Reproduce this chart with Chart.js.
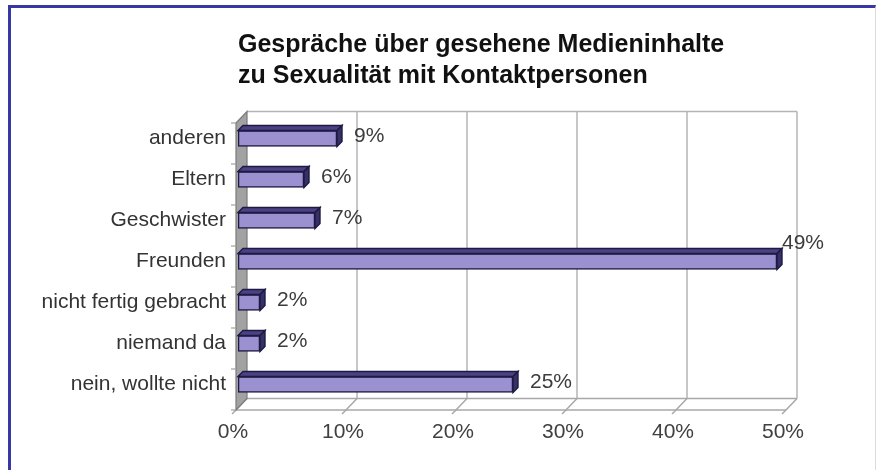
<!DOCTYPE html>
<html>
<head>
<meta charset="utf-8">
<script src="https://cdn.jsdelivr.net/npm/chart.js@4.4.1/dist/chart.umd.min.js"></script>
<style>
  html, body { margin: 0; padding: 0; background: #ffffff; }
  #wrap { position: relative; width: 876px; height: 470px; overflow: hidden; }
  #c { position: absolute; left: 0; top: 0; }
  #frame { position: absolute; left: 8px; top: 5px; width: 864px; height: 470px;
           border-left: 3px solid #3838a4; border-top: 3px solid #3838a4;
           border-right: 1px solid #dcdcdc; pointer-events: none; }
</style>
</head>
<body>
<div id="wrap">
  <canvas id="c" width="876" height="470"></canvas>
  <div id="frame"></div>
</div>
<script>
const titleLines = ['Gespräche über gesehene Medieninhalte', 'zu Sexualität mit Kontaktpersonen'];
const categories = ['anderen', 'Eltern', 'Geschwister', 'Freunden', 'nicht fertig gebracht', 'niemand da', 'nein, wollte nicht'];
const values = [9, 6, 7, 49, 2, 2, 25];
const xMin = 0;
const xMax = 50;
const xStep = 10;
const valueSuffix = '%';

const FONT = '"Liberation Sans", Arial, Helvetica, sans-serif';

// back / front planes offsets relative to the bar plane (3D look)
const BACK = { dx: 9, dy: -6.5 };
const FRONT = { dx: -2, dy: 5 };
const DEPTH = 5;

const box3d = {
  id: 'box3d',
  beforeDatasetsDraw(chart) {
    const { ctx, chartArea: ca, scales: { x, y } } = chart;
    const x0 = x.getPixelForValue(xMin);
    const x1 = x.getPixelForValue(xMax);
    const topB = ca.top + BACK.dy, botB = ca.bottom + BACK.dy;
    const topF = ca.top + FRONT.dy, botF = ca.bottom + FRONT.dy;
    ctx.save();
    ctx.strokeStyle = '#b4b4b4';
    ctx.lineWidth = 1.5;
    for (let v = xMin + xStep; v <= xMax; v += xStep) {
      const px = x.getPixelForValue(v) + BACK.dx;
      ctx.beginPath(); ctx.moveTo(px, topB); ctx.lineTo(px, botB); ctx.stroke();
    }
    ctx.beginPath(); ctx.moveTo(x0 + BACK.dx, topB); ctx.lineTo(x1 + BACK.dx, topB); ctx.stroke();
    ctx.strokeStyle = '#a8a8a8';
    ctx.beginPath(); ctx.moveTo(x0 + BACK.dx, botB); ctx.lineTo(x1 + BACK.dx, botB); ctx.stroke();
    ctx.beginPath(); ctx.moveTo(x0 + FRONT.dx, botF); ctx.lineTo(x1 + FRONT.dx, botF); ctx.stroke();
    for (let v = xMin; v <= xMax; v += xStep) {
      const p = x.getPixelForValue(v);
      ctx.beginPath();
      ctx.moveTo(p + BACK.dx, botB);
      ctx.lineTo(p + FRONT.dx, botF);
      ctx.lineTo(p + FRONT.dx - 4, botF + 4);
      ctx.stroke();
    }
    ctx.fillStyle = '#a2a2a2';
    ctx.beginPath();
    ctx.moveTo(x0 + FRONT.dx, topF);
    ctx.lineTo(x0 + BACK.dx, topB);
    ctx.lineTo(x0 + BACK.dx, botB);
    ctx.lineTo(x0 + FRONT.dx, botF);
    ctx.closePath();
    ctx.fill();
    ctx.strokeStyle = '#7a7a7a';
    ctx.lineWidth = 1.2;
    ctx.stroke();
    ctx.strokeStyle = '#a0a0a0';
    const n = categories.length;
    for (let i = 0; i <= n; i++) {
      const yy = (i === 0 ? ca.top : i === n ? ca.bottom :
        (y.getPixelForValue(i - 1) + y.getPixelForValue(i)) / 2) + FRONT.dy;
      ctx.beginPath(); ctx.moveTo(x0 + FRONT.dx - 5, yy); ctx.lineTo(x0 + FRONT.dx, yy); ctx.stroke();
    }
    ctx.restore();
  },
  afterDatasetsDraw(chart) {
    const { ctx, chartArea: ca } = chart;
    const meta = chart.getDatasetMeta(0);
    ctx.save();
    meta.data.forEach((bar, i) => {
      const top = bar.y - bar.height / 2;
      const bot = bar.y + bar.height / 2;
      const base = bar.base, end = bar.x;
      ctx.lineWidth = 1.4;
      ctx.strokeStyle = '#1e1a42';
      ctx.fillStyle = '#4a4285';
      ctx.beginPath();
      ctx.moveTo(base, top);
      ctx.lineTo(base + DEPTH, top - DEPTH);
      ctx.lineTo(end + DEPTH, top - DEPTH);
      ctx.lineTo(end, top);
      ctx.closePath(); ctx.fill(); ctx.stroke();
      ctx.fillStyle = '#353068';
      ctx.beginPath();
      ctx.moveTo(end, top);
      ctx.lineTo(end + DEPTH, top - DEPTH);
      ctx.lineTo(end + DEPTH, bot - DEPTH);
      ctx.lineTo(end, bot);
      ctx.closePath(); ctx.fill(); ctx.stroke();
      const txt = values[i] + valueSuffix;
      ctx.font = '21px ' + FONT;
      ctx.fillStyle = '#3c3c3c';
      ctx.textBaseline = 'middle';
      ctx.textAlign = 'left';
      let lx = end + 17, ly = bar.y - 2;
      if (lx > ca.right) { lx = end + 5; ly = bar.y - 18; }
      ctx.fillText(txt, lx, ly);
    });
    ctx.restore();
  }
};

new Chart(document.getElementById('c'), {
  type: 'bar',
  data: {
    labels: categories,
    datasets: [{
      data: values,
      backgroundColor: '#9b91d1',
      borderColor: '#1e1a42',
      borderWidth: 1.6,
      borderSkipped: false,
      barThickness: 16
    }]
  },
  options: {
    indexAxis: 'y',
    responsive: false,
    animation: false,
    layout: { padding: { top: 29, left: 20, right: 88, bottom: 0 } },
    plugins: {
      legend: { display: false },
      tooltip: { enabled: false },
      title: {
        display: true,
        text: titleLines,
        align: 'start',
        fullSize: false,
        color: '#111111',
        font: { family: FONT, size: 25, weight: 'bold', lineHeight: 1.25 },
        padding: { top: 0, bottom: 26.5 }
      }
    },
    scales: {
      x: {
        type: 'linear',
        min: xMin,
        max: xMax,
        grid: { display: false, drawTicks: false },
        border: { display: false },
        ticks: {
          stepSize: xStep,
          callback: v => v + valueSuffix,
          color: '#404040',
          font: { family: FONT, size: 21 },
          padding: 15,
          labelOffset: -5,
          maxRotation: 0
        },
        afterFit: s => { s.height = 65; }
      },
      y: {
        type: 'category',
        grid: { display: false, drawTicks: false },
        border: { display: false },
        ticks: {
          color: '#333333',
          font: { family: FONT, size: 21 },
          padding: 12
        },
        afterFit: s => { s.width = 218; }
      }
    }
  },
  plugins: [box3d]
});
</script>
</body>
</html>
